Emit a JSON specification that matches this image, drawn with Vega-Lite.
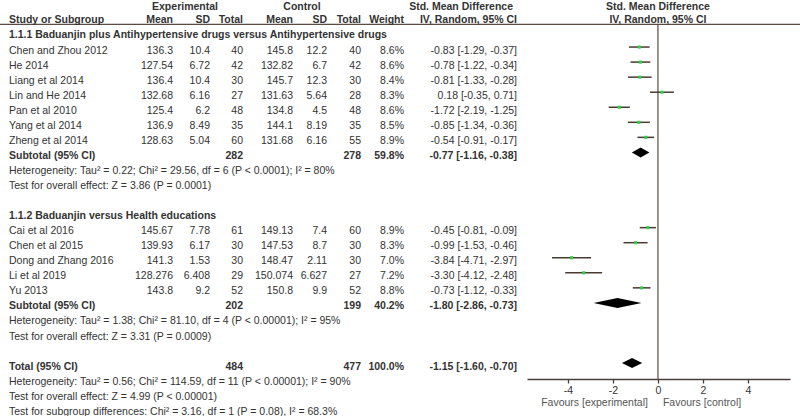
{
  "$schema": "https://vega.github.io/schema/vega-lite/v6.json",
  "width": 800,
  "height": 379,
  "autosize": "none",
  "padding": {"left": 0, "top": 0, "right": 0, "bottom": 37},
  "background": "white",
  "config": {
    "view": {"stroke": null},
    "text": {"font": "Liberation Sans", "fontSize": 10.5, "color": "#333333", "baseline": "middle", "dy": 3.5}
  },
  "data": {
    "values": [
      {"r": -1, "type": "head", "label": "Study or Subgroup", "em": "Mean", "esd": "SD", "en": "Total", "cm": "Mean", "csd": "SD", "cn": "Total", "w": "Weight", "ci": "IV, Random, 95% CI"},
      {"r": 0, "type": "group", "label": "1.1.1 Baduanjin plus Antihypertensive drugs versus Antihypertensive drugs"},
      {"r": 1, "type": "study", "label": "Chen and Zhou 2012", "em": "136.3", "esd": "10.4", "en": "40", "cm": "145.8", "csd": "12.2", "cn": "40", "w": "8.6%", "ci": "-0.83 [-1.29, -0.37]", "est": -0.83, "lo": -1.29, "hi": -0.37},
      {"r": 2, "type": "study", "label": "He 2014", "em": "127.54", "esd": "6.72", "en": "42", "cm": "132.82", "csd": "6.7", "cn": "42", "w": "8.6%", "ci": "-0.78 [-1.22, -0.34]", "est": -0.78, "lo": -1.22, "hi": -0.34},
      {"r": 3, "type": "study", "label": "Liang et al 2014", "em": "136.4", "esd": "10.4", "en": "30", "cm": "145.7", "csd": "12.3", "cn": "30", "w": "8.4%", "ci": "-0.81 [-1.33, -0.28]", "est": -0.81, "lo": -1.33, "hi": -0.28},
      {"r": 4, "type": "study", "label": "Lin and He 2014", "em": "132.68", "esd": "6.16", "en": "27", "cm": "131.63", "csd": "5.64", "cn": "28", "w": "8.3%", "ci": "0.18 [-0.35, 0.71]", "est": 0.18, "lo": -0.35, "hi": 0.71},
      {"r": 5, "type": "study", "label": "Pan et al 2010", "em": "125.4", "esd": "6.2", "en": "48", "cm": "134.8", "csd": "4.5", "cn": "48", "w": "8.6%", "ci": "-1.72 [-2.19, -1.25]", "est": -1.72, "lo": -2.19, "hi": -1.25},
      {"r": 6, "type": "study", "label": "Yang et al 2014", "em": "136.9", "esd": "8.49", "en": "35", "cm": "144.1", "csd": "8.19", "cn": "35", "w": "8.5%", "ci": "-0.85 [-1.34, -0.36]", "est": -0.85, "lo": -1.34, "hi": -0.36},
      {"r": 7, "type": "study", "label": "Zheng et al 2014", "em": "128.63", "esd": "5.04", "en": "60", "cm": "131.68", "csd": "6.16", "cn": "55", "w": "8.9%", "ci": "-0.54 [-0.91, -0.17]", "est": -0.54, "lo": -0.91, "hi": -0.17},
      {"r": 8, "type": "sub", "label": "Subtotal (95% CI)", "en": "282", "cn": "278", "w": "59.8%", "ci": "-0.77 [-1.16, -0.38]", "est": -0.77, "lo": -1.16, "hi": -0.38},
      {"r": 9, "type": "note", "label": "Heterogeneity: Tau² = 0.22; Chi² = 29.56, df = 6 (P < 0.0001); I² = 80%"},
      {"r": 10, "type": "note", "label": "Test for overall effect: Z = 3.86 (P = 0.0001)"},
      {"r": 12, "type": "group", "label": "1.1.2 Baduanjin versus Health educations"},
      {"r": 13, "type": "study", "label": "Cai et al 2016", "em": "145.67", "esd": "7.78", "en": "61", "cm": "149.13", "csd": "7.4", "cn": "60", "w": "8.9%", "ci": "-0.45 [-0.81, -0.09]", "est": -0.45, "lo": -0.81, "hi": -0.09},
      {"r": 14, "type": "study", "label": "Chen et al 2015", "em": "139.93", "esd": "6.17", "en": "30", "cm": "147.53", "csd": "8.7", "cn": "30", "w": "8.3%", "ci": "-0.99 [-1.53, -0.46]", "est": -0.99, "lo": -1.53, "hi": -0.46},
      {"r": 15, "type": "study", "label": "Dong and Zhang 2016", "em": "141.3", "esd": "1.53", "en": "30", "cm": "148.47", "csd": "2.11", "cn": "30", "w": "7.0%", "ci": "-3.84 [-4.71, -2.97]", "est": -3.84, "lo": -4.71, "hi": -2.97},
      {"r": 16, "type": "study", "label": "Li et al 2019", "em": "128.276", "esd": "6.408", "en": "29", "cm": "150.074", "csd": "6.627", "cn": "27", "w": "7.2%", "ci": "-3.30 [-4.12, -2.48]", "est": -3.30, "lo": -4.12, "hi": -2.48},
      {"r": 17, "type": "study", "label": "Yu 2013", "em": "143.8", "esd": "9.2", "en": "52", "cm": "150.8", "csd": "9.9", "cn": "52", "w": "8.8%", "ci": "-0.73 [-1.12, -0.33]", "est": -0.73, "lo": -1.12, "hi": -0.33},
      {"r": 18, "type": "sub", "label": "Subtotal (95% CI)", "en": "202", "cn": "199", "w": "40.2%", "ci": "-1.80 [-2.86, -0.73]", "est": -1.80, "lo": -2.86, "hi": -0.73},
      {"r": 19, "type": "note", "label": "Heterogeneity: Tau² = 1.38; Chi² = 81.10, df = 4 (P < 0.00001); I² = 95%"},
      {"r": 20, "type": "note", "label": "Test for overall effect: Z = 3.31 (P = 0.0009)"},
      {"r": 22, "type": "total", "label": "Total (95% CI)", "en": "484", "cn": "477", "w": "100.0%", "ci": "-1.15 [-1.60, -0.70]", "est": -1.15, "lo": -1.60, "hi": -0.70},
      {"r": 23, "type": "note", "label": "Heterogeneity: Tau² = 0.56; Chi² = 114.59, df = 11 (P < 0.00001); I² = 90%"},
      {"r": 24, "type": "note", "label": "Test for overall effect: Z = 4.99 (P < 0.00001)"},
      {"r": 25, "type": "note", "label": "Test for subgroup differences: Chi² = 3.16, df = 1 (P = 0.08), I² = 68.3%"}
    ]
  },
  "layer": [
    {
      "data": {"values": [{}]},
      "mark": {"type": "rule", "color": "#5a4a42", "strokeWidth": 1.3},
      "encoding": {
        "y": {"datum": -0.5, "type": "quantitative", "scale": {"domain": [-2.1262, 23.056], "reverse": true, "nice": false, "zero": false}, "axis": null}
      }
    },
    {
      "data": {"values": [{}]},
      "mark": {"type": "rule", "color": "#5a4a42", "strokeWidth": 1.2},
      "encoding": {
        "x": {"datum": 0, "type": "quantitative", "scale": {"domain": [-5.82, 5.87], "range": [527, 790], "nice": false, "zero": false},
          "axis": {"orient": "bottom", "values": [-4, -2, 0, 2, 4], "title": null, "grid": false, "domainColor": "#4a3f3a", "domainWidth": 1.3, "tickColor": "#4a3f3a", "tickSize": 4, "tickWidth": 1.3, "labelFont": "Liberation Sans", "labelFontSize": 10.5, "labelColor": "#333333", "labelPadding": 2, "labelExpr": "'' + datum.value", "labelFlush": false}},
        "y": {"datum": -0.5, "type": "quantitative", "scale": {"domain": [-2.1262, 23.056], "reverse": true, "nice": false, "zero": false}, "axis": null},
        "y2": {"datum": 23.056}
      }
    },
    {
      "transform": [{"filter": "datum.type == 'study'"}],
      "mark": {"type": "rule", "color": "#4a3a32", "strokeWidth": 1.5},
      "encoding": {
        "x": {"field": "lo", "type": "quantitative"},
        "x2": {"field": "hi"},
        "y": {"field": "r", "type": "quantitative", "axis": null}
      }
    },
    {
      "transform": [{"filter": "datum.type == 'study'"}],
      "mark": {"type": "square", "color": "#2fcf4a", "filled": true, "opacity": 1, "size": 10},
      "encoding": {
        "x": {"field": "est", "type": "quantitative"},
        "y": {"field": "r", "type": "quantitative", "axis": null}
      }
    },
    {
      "transform": [
        {"filter": "datum.type == 'sub' || datum.type == 'total'"},
        {"fold": ["lo", "est", "hi"], "as": ["v", "xv"]}
      ],
      "mark": {"type": "area", "color": "#000000", "opacity": 1, "yOffset": {"expr": "datum.v == 'est' ? -5 : 0"}, "y2Offset": {"expr": "datum.v == 'est' ? 5 : 0"}},
      "encoding": {
        "x": {"field": "xv", "type": "quantitative"},
        "y": {"field": "r", "type": "quantitative", "axis": null},
        "y2": {"field": "r"},
        "detail": {"field": "r", "type": "nominal"}
      }
    },
    {
      "transform": [{"filter": "datum.type == 'study' || datum.type == 'note'"}],
      "mark": {"type": "text", "align": "left"},
      "encoding": {"x": {"value": 9}, "y": {"field": "r", "type": "quantitative", "axis": null}, "text": {"field": "label"}}
    },
    {
      "transform": [{"filter": "datum.type == 'head' || datum.type == 'group' || datum.type == 'sub' || datum.type == 'total'"}],
      "mark": {"type": "text", "align": "left", "fontWeight": "bold"},
      "encoding": {"x": {"value": 9}, "y": {"field": "r", "type": "quantitative", "axis": null}, "text": {"field": "label"}}
    },
    {
      "transform": [{"filter": "datum.type == 'study'"}],
      "mark": {"type": "text", "align": "right"},
      "encoding": {"x": {"value": 173}, "y": {"field": "r", "type": "quantitative", "axis": null}, "text": {"field": "em"}}
    },
    {
      "transform": [{"filter": "datum.type == 'study'"}],
      "mark": {"type": "text", "align": "right"},
      "encoding": {"x": {"value": 210}, "y": {"field": "r", "type": "quantitative", "axis": null}, "text": {"field": "esd"}}
    },
    {
      "transform": [{"filter": "datum.type == 'study'"}],
      "mark": {"type": "text", "align": "right"},
      "encoding": {"x": {"value": 243}, "y": {"field": "r", "type": "quantitative", "axis": null}, "text": {"field": "en"}}
    },
    {
      "transform": [{"filter": "datum.type == 'study'"}],
      "mark": {"type": "text", "align": "right"},
      "encoding": {"x": {"value": 293}, "y": {"field": "r", "type": "quantitative", "axis": null}, "text": {"field": "cm"}}
    },
    {
      "transform": [{"filter": "datum.type == 'study'"}],
      "mark": {"type": "text", "align": "right"},
      "encoding": {"x": {"value": 327}, "y": {"field": "r", "type": "quantitative", "axis": null}, "text": {"field": "csd"}}
    },
    {
      "transform": [{"filter": "datum.type == 'study'"}],
      "mark": {"type": "text", "align": "right"},
      "encoding": {"x": {"value": 361}, "y": {"field": "r", "type": "quantitative", "axis": null}, "text": {"field": "cn"}}
    },
    {
      "transform": [{"filter": "datum.type == 'study'"}],
      "mark": {"type": "text", "align": "right"},
      "encoding": {"x": {"value": 404}, "y": {"field": "r", "type": "quantitative", "axis": null}, "text": {"field": "w"}}
    },
    {
      "transform": [{"filter": "datum.type == 'study'"}],
      "mark": {"type": "text", "align": "right"},
      "encoding": {"x": {"value": 517}, "y": {"field": "r", "type": "quantitative", "axis": null}, "text": {"field": "ci"}}
    },
    {
      "transform": [{"filter": "datum.type == 'head'"}],
      "mark": {"type": "text", "align": "right", "fontWeight": "bold"},
      "encoding": {"x": {"value": 173}, "y": {"field": "r", "type": "quantitative", "axis": null}, "text": {"field": "em"}}
    },
    {
      "transform": [{"filter": "datum.type == 'head'"}],
      "mark": {"type": "text", "align": "right", "fontWeight": "bold"},
      "encoding": {"x": {"value": 210}, "y": {"field": "r", "type": "quantitative", "axis": null}, "text": {"field": "esd"}}
    },
    {
      "transform": [{"filter": "datum.type == 'head'"}],
      "mark": {"type": "text", "align": "right", "fontWeight": "bold"},
      "encoding": {"x": {"value": 293}, "y": {"field": "r", "type": "quantitative", "axis": null}, "text": {"field": "cm"}}
    },
    {
      "transform": [{"filter": "datum.type == 'head'"}],
      "mark": {"type": "text", "align": "right", "fontWeight": "bold"},
      "encoding": {"x": {"value": 327}, "y": {"field": "r", "type": "quantitative", "axis": null}, "text": {"field": "csd"}}
    },
    {
      "transform": [{"filter": "datum.type == 'head' || datum.type == 'sub' || datum.type == 'total'"}],
      "mark": {"type": "text", "align": "right", "fontWeight": "bold"},
      "encoding": {"x": {"value": 243}, "y": {"field": "r", "type": "quantitative", "axis": null}, "text": {"field": "en"}}
    },
    {
      "transform": [{"filter": "datum.type == 'head' || datum.type == 'sub' || datum.type == 'total'"}],
      "mark": {"type": "text", "align": "right", "fontWeight": "bold"},
      "encoding": {"x": {"value": 361}, "y": {"field": "r", "type": "quantitative", "axis": null}, "text": {"field": "cn"}}
    },
    {
      "transform": [{"filter": "datum.type == 'head' || datum.type == 'sub' || datum.type == 'total'"}],
      "mark": {"type": "text", "align": "right", "fontWeight": "bold"},
      "encoding": {"x": {"value": 404}, "y": {"field": "r", "type": "quantitative", "axis": null}, "text": {"field": "w"}}
    },
    {
      "transform": [{"filter": "datum.type == 'head' || datum.type == 'sub' || datum.type == 'total'"}],
      "mark": {"type": "text", "align": "right", "fontWeight": "bold"},
      "encoding": {"x": {"value": 517}, "y": {"field": "r", "type": "quantitative", "axis": null}, "text": {"field": "ci"}}
    },
    {
      "data": {"values": [{"r": -1.9, "t": "Experimental"}]},
      "mark": {"type": "text", "align": "center", "fontWeight": "bold"},
      "encoding": {"x": {"value": 185}, "y": {"field": "r", "type": "quantitative", "axis": null}, "text": {"field": "t"}}
    },
    {
      "data": {"values": [{"r": -1.9, "t": "Control"}]},
      "mark": {"type": "text", "align": "center", "fontWeight": "bold"},
      "encoding": {"x": {"value": 302}, "y": {"field": "r", "type": "quantitative", "axis": null}, "text": {"field": "t"}}
    },
    {
      "data": {"values": [{"r": -1.9, "t": "Std. Mean Difference"}]},
      "mark": {"type": "text", "align": "right", "fontWeight": "bold"},
      "encoding": {"x": {"value": 513}, "y": {"field": "r", "type": "quantitative", "axis": null}, "text": {"field": "t"}}
    },
    {
      "data": {"values": [{"r": -1.9, "t": "Std. Mean Difference"}, {"r": -1, "t": "IV, Random, 95% CI"}]},
      "mark": {"type": "text", "align": "center", "fontWeight": "bold"},
      "encoding": {"x": {"datum": 0, "type": "quantitative"}, "y": {"field": "r", "type": "quantitative", "axis": null}, "text": {"field": "t"}}
    },
    {
      "data": {"values": [{"r": 24.42, "t": "Favours [experimental]"}]},
      "mark": {"type": "text", "align": "right", "dx": -10, "color": "#555555"},
      "encoding": {"x": {"datum": 0, "type": "quantitative"}, "y": {"field": "r", "type": "quantitative", "axis": null}, "text": {"field": "t"}}
    },
    {
      "data": {"values": [{"r": 24.42, "t": "Favours [control]"}]},
      "mark": {"type": "text", "align": "left", "dx": 5, "color": "#555555"},
      "encoding": {"x": {"datum": 0, "type": "quantitative"}, "y": {"field": "r", "type": "quantitative", "axis": null}, "text": {"field": "t"}}
    }
  ]
}
